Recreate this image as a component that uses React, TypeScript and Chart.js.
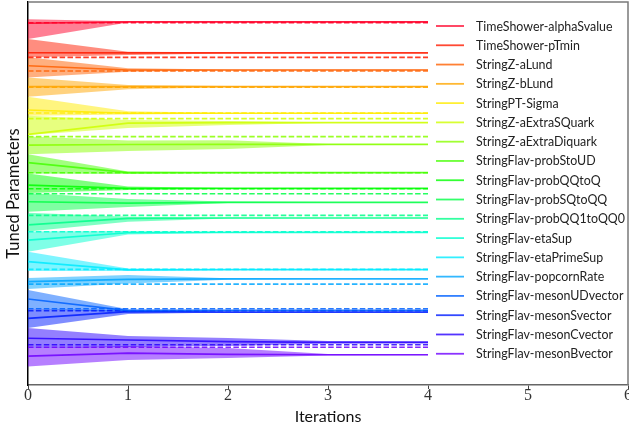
import React, { useEffect, useRef } from "react";
import { Chart, registerables } from "chart.js";

Chart.register(...registerables);

const iterations = [0, 1, 2, 3, 4];
const xTickValues = [0, 1, 2, 3, 4, 5, 6];

const parameterNames = [
  "TimeShower-alphaSvalue",
  "TimeShower-pTmin",
  "StringZ-aLund",
  "StringZ-bLund",
  "StringPT-Sigma",
  "StringZ-aExtraSQuark",
  "StringZ-aExtraDiquark",
  "StringFlav-probStoUD",
  "StringFlav-probQQtoQ",
  "StringFlav-probSQtoQQ",
  "StringFlav-probQQ1toQQ0",
  "StringFlav-etaSup",
  "StringFlav-etaPrimeSup",
  "StringFlav-popcornRate",
  "StringFlav-mesonUDvector",
  "StringFlav-mesonSvector",
  "StringFlav-mesonCvector",
  "StringFlav-mesonBvector",
];

// mean of tuned value per iteration (offset-normalised units)
const meanSeries = [
  [18.89, 18.96, 18.96, 18.96, 18.96],
  [17.35, 17.34, 17.34, 17.34, 17.34],
  [16.67, 16.45, 16.45, 16.45, 16.45],
  [15.58, 15.58, 15.58, 15.58, 15.58],
  [14.36, 14.19, 14.19, 14.19, 14.19],
  [13.09, 13.67, 13.7, 13.7, 13.7],
  [12.53, 12.56, 12.57, 12.57, 12.57],
  [11.61, 11.09, 11.09, 11.09, 11.09],
  [10.44, 10.27, 10.27, 10.27, 10.27],
  [9.57, 9.5, 9.54, 9.54, 9.54],
  [8.36, 8.7, 8.72, 8.72, 8.72],
  [7.57, 7.95, 7.97, 7.97, 7.97],
  [6.44, 6.01, 6.02, 6.02, 6.02],
  [5.4, 5.52, 5.54, 5.54, 5.54],
  [4.49, 3.88, 3.9, 3.9, 3.9],
  [3.48, 3.83, 3.81, 3.81, 3.81],
  [2.44, 2.35, 2.26, 2.23, 2.23],
  [1.51, 1.66, 1.6, 1.58, 1.58],
];

const lowerSeries = [
  [18.07, 18.93, 18.93, 18.93, 18.93],
  [17.11, 17.23, 17.31, 17.32, 17.32],
  [16.06, 16.36, 16.42, 16.43, 16.43],
  [15.05, 15.44, 15.55, 15.56, 15.56],
  [14.06, 14.12, 14.17, 14.18, 14.18],
  [13.05, 13.42, 13.58, 13.68, 13.68],
  [12.05, 12.22, 12.33, 12.53, 12.54],
  [11.05, 11.02, 11.07, 11.08, 11.08],
  [10.03, 10.18, 10.25, 10.26, 10.26],
  [9.05, 9.3, 9.5, 9.53, 9.53],
  [8.01, 8.53, 8.69, 8.71, 8.71],
  [6.96, 7.86, 7.95, 7.96, 7.96],
  [5.95, 5.95, 6.0, 6.01, 6.01],
  [5.01, 5.3, 5.5, 5.53, 5.53],
  [3.97, 3.8, 3.88, 3.89, 3.89],
  [2.98, 3.71, 3.79, 3.8, 3.8],
  [1.93, 1.98, 2.04, 2.17, 2.18],
  [0.96, 1.31, 1.41, 1.54, 1.55],
];

const upperSeries = [
  [19.1, 18.99, 18.99, 18.99, 18.99],
  [18.07, 17.4, 17.37, 17.36, 17.36],
  [17.11, 16.54, 16.48, 16.47, 16.47],
  [16.06, 15.67, 15.61, 15.6, 15.6],
  [15.05, 14.3, 14.21, 14.2, 14.2],
  [14.06, 13.84, 13.79, 13.72, 13.72],
  [12.97, 12.77, 12.78, 12.59, 12.59],
  [12.05, 11.15, 11.11, 11.1, 11.1],
  [11.05, 10.37, 10.29, 10.28, 10.28],
  [10.03, 9.71, 9.58, 9.55, 9.55],
  [9.0, 8.79, 8.75, 8.73, 8.73],
  [8.01, 8.04, 7.99, 7.98, 7.98],
  [6.96, 6.08, 6.04, 6.03, 6.03],
  [5.59, 5.74, 5.58, 5.55, 5.55],
  [4.96, 3.96, 3.92, 3.91, 3.91],
  [3.97, 3.92, 3.83, 3.82, 3.82],
  [2.98, 2.56, 2.45, 2.3, 2.28],
  [1.93, 2.04, 1.93, 1.62, 1.61],
];

// reference (target) value of each parameter
const targetValues = [
  18.92, 17.11, 16.4, 15.55, 14.2, 13.91, 12.97, 11.08, 10.25, 9.99, 8.86, 8.0,
  6.04, 5.27, 3.98, 3.88, 2.1, 1.97,
];

// gist_rainbow samples
const palette: number[][] = [
  [255, 0, 41],
  [255, 27, 0],
  [255, 96, 0],
  [255, 166, 0],
  [255, 235, 0],
  [207, 255, 0],
  [138, 255, 0],
  [69, 255, 0],
  [0, 255, 0],
  [0, 255, 69],
  [0, 255, 138],
  [0, 255, 207],
  [0, 235, 255],
  [0, 166, 255],
  [0, 97, 255],
  [0, 28, 255],
  [41, 0, 255],
  [110, 0, 255],
];

const rgba = (c: number[], a: number) => `rgba(${c[0]},${c[1]},${c[2]},${a})`;

const SANS = "Lato, 'Open Sans', sans-serif";
const SERIF = "'Liberation Serif', 'DejaVu Serif', serif";

const framePlugin = {
  id: "frameLines",
  afterDraw(chart: any) {
    const { ctx, chartArea } = chart;
    ctx.save();
    ctx.strokeStyle = "#7a7a7a";
    ctx.lineWidth = 1.5;
    ctx.beginPath();
    ctx.moveTo(chartArea.left, chartArea.top);
    ctx.lineTo(chartArea.right, chartArea.top);
    ctx.lineTo(chartArea.right, chartArea.bottom);
    ctx.stroke();
    ctx.restore();
  },
};

const legendPlugin = {
  id: "paramLegend",
  afterDraw(chart: any) {
    const { ctx, chartArea, scales } = chart;
    const x0 = scales.x.getPixelForValue(4) + 8;
    const lineLen = 28;
    const rowH = 19.28;
    const y0 = chartArea.top + 24;
    ctx.save();
    ctx.font = `12.4px ${SANS}`;
    ctx.textBaseline = "middle";
    ctx.textAlign = "left";
    parameterNames.forEach((name, i) => {
      const y = y0 + i * rowH;
      ctx.strokeStyle = rgba(palette[i], 0.8);
      ctx.lineWidth = 1.8;
      ctx.beginPath();
      ctx.moveTo(x0, y);
      ctx.lineTo(x0 + lineLen, y);
      ctx.stroke();
      ctx.fillStyle = "#222";
      ctx.fillText(name, x0 + lineLen + 12, y + 0.5);
    });
    ctx.restore();
  },
};

export default function App() {
  const ref = useRef<HTMLCanvasElement | null>(null);

  useEffect(() => {
    if (!ref.current) return;
    const datasets: any[] = [];
    parameterNames.forEach((name, i) => {
      const c = palette[i];
      datasets.push({
        label: name + " lower",
        data: iterations.map((x, k) => ({ x, y: lowerSeries[i][k] })),
        borderWidth: 0,
        borderColor: "rgba(0,0,0,0)",
        pointRadius: 0,
        fill: false,
      });
      datasets.push({
        label: name + " band",
        data: iterations.map((x, k) => ({ x, y: upperSeries[i][k] })),
        borderWidth: 0,
        borderColor: "rgba(0,0,0,0)",
        backgroundColor: rgba(c, 0.5),
        pointRadius: 0,
        fill: "-1",
      });
      datasets.push({
        label: name,
        data: iterations.map((x, k) => ({ x, y: meanSeries[i][k] })),
        borderColor: rgba(c, 0.85),
        borderWidth: 1.7,
        pointRadius: 0,
        fill: false,
      });
      datasets.push({
        label: name + " target",
        data: iterations.map((x) => ({ x, y: targetValues[i] })),
        borderColor: rgba(c, 0.85),
        borderWidth: 1.6,
        borderDash: [5.5, 2.4],
        pointRadius: 0,
        fill: false,
      });
    });

    const chart = new Chart(ref.current, {
      type: "line",
      data: { datasets },
      plugins: [framePlugin, legendPlugin],
      options: {
        animation: false,
        responsive: false,
        devicePixelRatio: 1,
        layout: { padding: { top: 2, right: 1, left: 0, bottom: 0 } },
        elements: { line: { tension: 0 } },
        plugins: {
          legend: { display: false },
          tooltip: { enabled: false },
          filler: { drawTime: "beforeDatasetsDraw" },
        },
        scales: {
          x: {
            type: "linear",
            min: 0,
            max: 6,
            afterBuildTicks: (scale: any) => {
              scale.ticks = xTickValues.map((v) => ({ value: v }));
            },
            afterFit: (scale: any) => {
              scale.height = 45;
            },
            ticks: {
              font: { family: SERIF, size: 16 },
              color: "#333",
              padding: -3,
              maxRotation: 0,
            },
            grid: {
              display: true,
              drawOnChartArea: false,
              drawTicks: true,
              tickLength: 4,
              color: "#444",
            },
            border: { display: true, color: "#666", width: 1.5 },
            title: {
              display: true,
              text: "Iterations",
              font: { family: SANS, size: 16 },
              color: "#111",
              padding: { top: 0, bottom: 4 },
            },
          },
          y: {
            type: "linear",
            min: 0,
            max: 20,
            afterFit: (scale: any) => {
              scale.width = 28;
            },
            ticks: { display: false },
            grid: { display: true, drawOnChartArea: false, drawTicks: false },
            border: { display: true, color: "#000", width: 1.5 },
            title: {
              display: true,
              text: "Tuned Parameters",
              font: { family: SANS, size: 16.5 },
              color: "#111",
              padding: { top: 4, bottom: 0 },
            },
          },
        },
      } as any,
    });
    return () => chart.destroy();
  }, []);

  return (
    <div style={{ position: "fixed", left: 0, top: 0, width: 629, height: 430, background: "#fff" }}>
      <canvas ref={ref} width={629} height={430} style={{ display: "block" }} />
    </div>
  );
}
